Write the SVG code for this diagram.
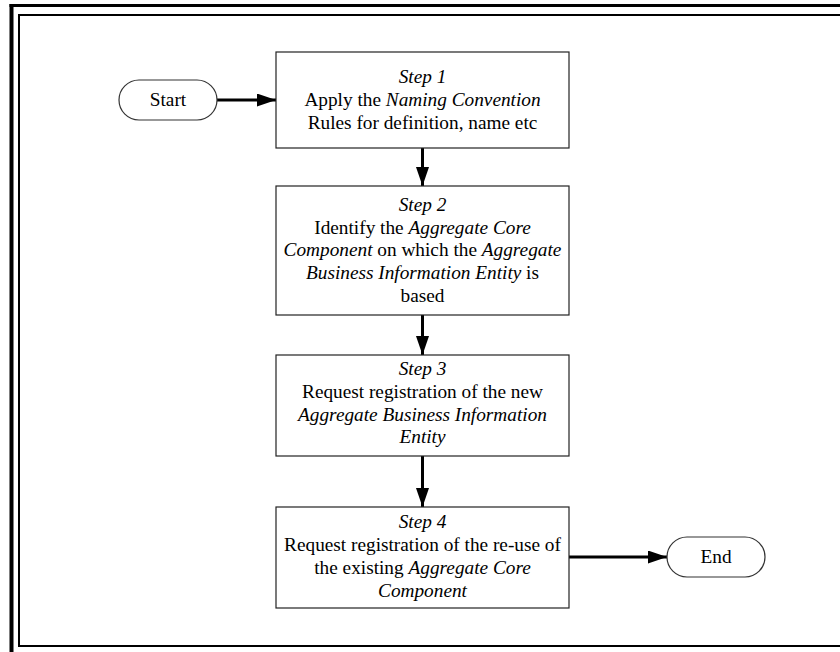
<svg xmlns="http://www.w3.org/2000/svg" width="840" height="652" viewBox="0 0 840 652">
<style>
  .box { fill: #fff; stroke: #222; stroke-width: 1.2; }
  .pill { fill: #fff; stroke: #333; stroke-width: 1.2; }
  .t { font-family: "Liberation Serif", "Times New Roman", serif; font-size: 19.3px; fill: #000; text-anchor: middle; }
  .i { font-style: italic; }
  .conn { stroke: #000; stroke-width: 3; fill: none; marker-end: url(#ah); }
  .frame { stroke: #000; fill: none; }
</style>
<defs>
  <marker id="ah" markerUnits="userSpaceOnUse" markerWidth="19" markerHeight="13" refX="19" refY="6.5" orient="auto">
    <path d="M0,0 L19,6.5 L0,13 Z" fill="#000"/>
  </marker>
</defs>
<rect width="840" height="652" fill="#fff"/>
<g id="frame">
  <line class="frame" x1="9.5" y1="5.5" x2="840" y2="5.5" stroke-width="3"/>
  <line class="frame" x1="11.5" y1="4" x2="11.5" y2="652" stroke-width="4"/>
  <line class="frame" x1="18" y1="15" x2="840" y2="15" stroke-width="2"/>
  <line class="frame" x1="19" y1="14" x2="19" y2="647" stroke-width="2"/>
  <line class="frame" x1="18" y1="646" x2="840" y2="646" stroke-width="2"/>
</g>
<g id="connectors">
  <line class="conn" x1="217" y1="100" x2="276" y2="100"/>
  <line class="conn" x1="422.5" y1="148" x2="422.5" y2="186"/>
  <line class="conn" x1="422.5" y1="315" x2="422.5" y2="355"/>
  <line class="conn" x1="422.5" y1="456" x2="422.5" y2="507"/>
  <line class="conn" x1="569" y1="557" x2="667" y2="557"/>
</g>
<g id="start">
  <rect class="pill" x="119" y="80" width="98" height="40" rx="20" ry="20"/>
  <text class="t" x="168" y="106">Start</text>
</g>
<g id="step1">
  <rect class="box" x="276" y="52" width="293" height="96"/>
  <text class="t" x="422.5" y="83.3"><tspan class="i">Step 1</tspan></text>
  <text class="t" x="422.5" y="106">Apply the <tspan class="i">Naming Convention</tspan></text>
  <text class="t" x="422.5" y="128.7">Rules for definition, name etc</text>
</g>
<g id="step2">
  <rect class="box" x="276" y="186" width="293" height="129"/>
  <text class="t" x="422.5" y="210.7"><tspan class="i">Step 2</tspan></text>
  <text class="t" x="422.5" y="233.5">Identify the <tspan class="i">Aggregate Core</tspan></text>
  <text class="t" x="422.5" y="256.3"><tspan class="i">Component</tspan> on which the <tspan class="i">Aggregate</tspan></text>
  <text class="t" x="422.5" y="279.2"><tspan class="i">Business Information Entity</tspan> is</text>
  <text class="t" x="422.5" y="302.3">based</text>
</g>
<g id="step3">
  <rect class="box" x="276" y="355" width="293" height="101"/>
  <text class="t" x="422.5" y="375"><tspan class="i">Step 3</tspan></text>
  <text class="t" x="422.5" y="397.7">Request registration of the new</text>
  <text class="t" x="422.5" y="420.6"><tspan class="i">Aggregate Business Information</tspan></text>
  <text class="t" x="422.5" y="443.3"><tspan class="i">Entity</tspan></text>
</g>
<g id="step4">
  <rect class="box" x="276" y="507" width="293" height="101"/>
  <text class="t" x="422.5" y="528.3"><tspan class="i">Step 4</tspan></text>
  <text class="t" x="422.5" y="551">Request registration of the re-use of</text>
  <text class="t" x="422.5" y="573.8">the existing <tspan class="i">Aggregate Core</tspan></text>
  <text class="t" x="422.5" y="596.7"><tspan class="i">Component</tspan></text>
</g>
<g id="end">
  <rect class="pill" x="667" y="537" width="98" height="40" rx="20" ry="20"/>
  <text class="t" x="716" y="563">End</text>
</g>
</svg>
